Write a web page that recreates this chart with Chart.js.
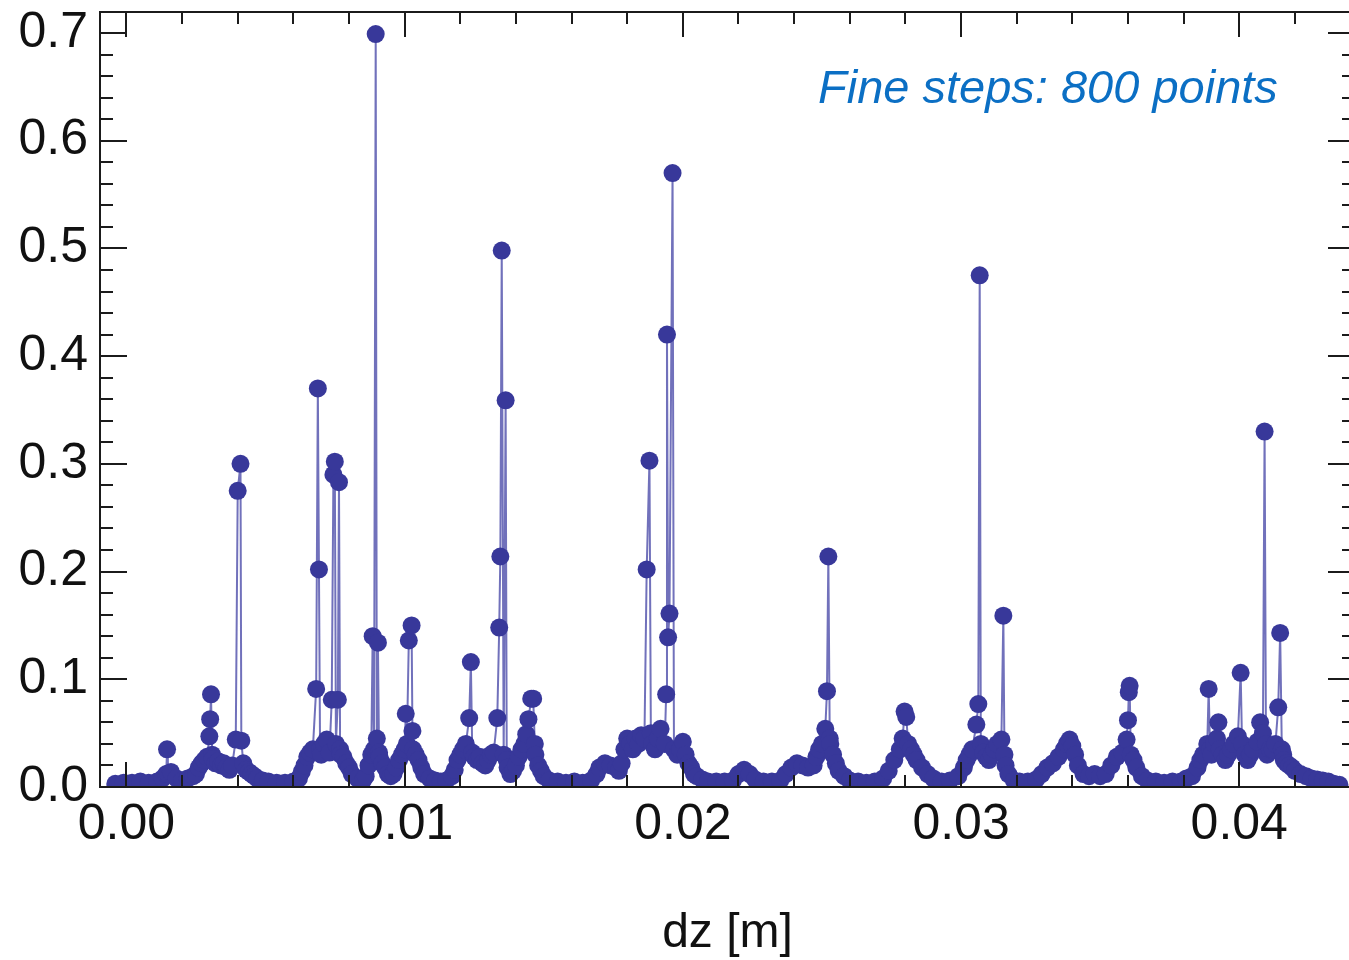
<!DOCTYPE html>
<html>
<head>
<meta charset="utf-8">
<script src="https://cdn.jsdelivr.net/npm/chart.js@4/dist/chart.umd.min.js"></script>
<style>
  html, body { margin: 0; padding: 0; background: #fff; overflow: hidden; }
  #wrap { width: 1349px; height: 960px; overflow: hidden; }
</style>
</head>
<body>
<!-- canvas is a few px wider than the window: the right frame of the plot sits just off the edge -->
<div id="wrap"><canvas id="myChart" width="1355" height="960"></canvas></div>
<script>
// x positions [m]
const dz = [
  -0.0004, -0.0001, 0.0002, 0.0005, 0.0008, 0.0011, 0.0013, 0.00143, 0.00146, 0.00149, 0.0016, 0.0018, 0.0020, 0.0022, 0.0024,
  0.0025, 0.0026, 0.0027, 0.0028, 0.0029, 0.00298, 0.00301, 0.00304, 0.00308, 0.0031, 0.0032, 0.0033, 0.0034, 0.0035, 0.0036, 0.0037, 0.0038, 0.00393, 0.00400, 0.00410, 0.00413, 0.0042, 0.0043, 0.0044, 0.0045, 0.0046, 0.0047, 0.0049,
  0.0051, 0.0054, 0.0057, 0.0060,
  0.0062, 0.0063, 0.0064, 0.0065, 0.0066, 0.0067, 0.00682, 0.00688, 0.00692, 0.00696, 0.0070, 0.0071, 0.0072, 0.0073, 0.00738, 0.00744, 0.00749, 0.00753, 0.00760, 0.00764, 0.00768, 0.0077, 0.0078, 0.0079, 0.0080, 0.0081, 0.0083, 0.0085,
  0.0086, 0.0087, 0.0088, 0.00885, 0.00890, 0.00896, 0.00900, 0.00904, 0.00908, 0.0091, 0.0092, 0.0093, 0.0094, 0.0095, 0.0096, 0.0097, 0.0098, 0.0099, 0.0100, 0.01004, 0.01008, 0.01015, 0.01025, 0.01028, 0.0103, 0.0104, 0.0105, 0.0106, 0.0107, 0.0109, 0.0111,
  0.0113, 0.0115, 0.0117, 0.0118, 0.0119, 0.0120, 0.0121, 0.0122, 0.01232, 0.01238, 0.01243, 0.0125, 0.0126, 0.0127, 0.0128, 0.0129, 0.0130, 0.0131, 0.0132, 0.01333, 0.01340, 0.01344, 0.01349, 0.01356, 0.01363, 0.01367, 0.0137, 0.0138, 0.0139, 0.0140, 0.0141, 0.0142, 0.0143, 0.01437, 0.01445, 0.01455, 0.01462, 0.01468, 0.0147, 0.0148, 0.0149, 0.0150, 0.0152,
  0.0155, 0.0158, 0.0161, 0.0164, 0.0167,
  0.0169, 0.0170, 0.0172, 0.0174, 0.0176, 0.0177, 0.0178, 0.0179, 0.0180, 0.0181, 0.0182, 0.0183, 0.0184, 0.0185, 0.01862, 0.01870, 0.01880, 0.01885, 0.0189, 0.0190, 0.0191, 0.0192, 0.01935, 0.01940, 0.01943, 0.01947, 0.01952, 0.01963, 0.01968, 0.0198, 0.0199, 0.0200, 0.0201, 0.0202, 0.0203, 0.0204, 0.0205, 0.0207,
  0.0209, 0.0212, 0.0215, 0.0218, 0.0220, 0.0222, 0.0224, 0.0226, 0.0229, 0.0232, 0.0235,
  0.0237, 0.0239, 0.0241, 0.0243, 0.0245, 0.0247, 0.0248, 0.0249, 0.0250, 0.02512, 0.02518, 0.02523, 0.02528, 0.0253, 0.0254, 0.0255, 0.0256, 0.0258, 0.0260,
  0.0263, 0.0266, 0.0269, 0.0272, 0.0274, 0.0276, 0.0278, 0.0279, 0.02797, 0.02803, 0.0281, 0.0282, 0.0283, 0.0284, 0.0286, 0.0288, 0.0290, 0.0293,
  0.0296, 0.0299, 0.0301, 0.0302, 0.0303, 0.0304, 0.03055, 0.03062, 0.03067, 0.03071, 0.0308, 0.0309, 0.0310, 0.0311, 0.0312, 0.0313, 0.03145, 0.03152, 0.03156, 0.0316, 0.0317, 0.0319,
  0.0321, 0.0324, 0.0327, 0.0329, 0.0331, 0.0333, 0.0335, 0.0337, 0.0338, 0.0339, 0.0340, 0.0341, 0.0342, 0.0344, 0.0346, 0.0348, 0.0350, 0.0352, 0.0354, 0.0356, 0.0358, 0.03595, 0.03600, 0.03603, 0.03606, 0.0361, 0.0362, 0.0363, 0.0365, 0.0367,
  0.0370, 0.0373, 0.0376, 0.0379, 0.0381,
  0.0383, 0.0385, 0.0386, 0.0387, 0.03885, 0.03890, 0.03895, 0.0390, 0.0391, 0.0392, 0.03925, 0.0393, 0.0394, 0.0395, 0.0396, 0.0397, 0.0398, 0.03995, 0.04005, 0.0401, 0.0402, 0.0403, 0.0404, 0.0405, 0.04065, 0.04075, 0.04085, 0.04091, 0.04096, 0.0410, 0.0411, 0.0412, 0.0413, 0.04140, 0.04147, 0.04153, 0.04158, 0.0416, 0.0417, 0.0418, 0.0419, 0.0420, 0.0422, 0.0424, 0.0426, 0.0428, 0.0430, 0.0432, 0.0434, 0.0436
];
// values at each dz (same order)
const signal = [
  0.003, 0.004, 0.004, 0.005, 0.004, 0.005, 0.008, 0.012, 0.035, 0.012, 0.014, 0.008, 0.006, 0.008, 0.010,
  0.012, 0.018, 0.022, 0.025, 0.028, 0.047, 0.063, 0.086, 0.030, 0.026, 0.022, 0.024, 0.020, 0.022, 0.018, 0.016, 0.020, 0.044, 0.275, 0.300, 0.043, 0.022, 0.016, 0.014, 0.012, 0.010, 0.008, 0.006,
  0.005, 0.004, 0.004, 0.005,
  0.008, 0.014, 0.020, 0.028, 0.032, 0.035, 0.091, 0.370, 0.202, 0.035, 0.030, 0.040, 0.044, 0.032, 0.081, 0.290, 0.302, 0.040, 0.081, 0.283, 0.035, 0.030, 0.028, 0.022, 0.018, 0.012, 0.008, 0.006,
  0.010, 0.020, 0.030, 0.140, 0.035, 0.699, 0.045, 0.134, 0.032, 0.028, 0.022, 0.018, 0.012, 0.010, 0.012, 0.018, 0.025, 0.030, 0.035, 0.068, 0.040, 0.136, 0.150, 0.052, 0.035, 0.030, 0.025, 0.018, 0.012, 0.008, 0.006,
  0.005, 0.006, 0.010, 0.016, 0.025, 0.030, 0.035, 0.040, 0.064, 0.116, 0.032, 0.028, 0.025, 0.028, 0.022, 0.020, 0.025, 0.030, 0.032, 0.064, 0.148, 0.214, 0.498, 0.030, 0.359, 0.025, 0.018, 0.012, 0.015, 0.020, 0.028, 0.035, 0.040, 0.049, 0.063, 0.082, 0.082, 0.040, 0.030, 0.020, 0.015, 0.010, 0.006,
  0.005, 0.004, 0.005, 0.004, 0.006,
  0.012, 0.018, 0.022, 0.020, 0.018, 0.015, 0.022, 0.035, 0.045, 0.040, 0.035, 0.045, 0.040, 0.048, 0.045, 0.202, 0.303, 0.050, 0.040, 0.035, 0.045, 0.054, 0.040, 0.086, 0.420, 0.139, 0.161, 0.570, 0.035, 0.030, 0.035, 0.042, 0.030, 0.022, 0.018, 0.012, 0.010, 0.007,
  0.005, 0.005, 0.005, 0.006, 0.012, 0.016, 0.012, 0.007, 0.005, 0.005, 0.006,
  0.012, 0.018, 0.022, 0.020, 0.018, 0.020, 0.028, 0.035, 0.040, 0.054, 0.089, 0.214, 0.045, 0.040, 0.030, 0.022, 0.015, 0.010, 0.006,
  0.005, 0.004, 0.005, 0.008, 0.015, 0.025, 0.035, 0.045, 0.070, 0.065, 0.040, 0.035, 0.030, 0.025, 0.018, 0.012, 0.008, 0.005,
  0.006, 0.010, 0.018, 0.025, 0.030, 0.035, 0.058, 0.077, 0.475, 0.040, 0.032, 0.028, 0.025, 0.030, 0.035, 0.040, 0.044, 0.159, 0.030, 0.020, 0.012, 0.006,
  0.005, 0.005, 0.007, 0.012, 0.018, 0.022, 0.028, 0.035, 0.040, 0.044, 0.038, 0.030, 0.020, 0.012, 0.010, 0.012, 0.010, 0.012, 0.020, 0.028, 0.032, 0.044, 0.062, 0.088, 0.094, 0.030, 0.025, 0.018, 0.010, 0.006,
  0.005, 0.004, 0.005, 0.005, 0.008,
  0.010, 0.018, 0.025, 0.030, 0.040, 0.091, 0.035, 0.030, 0.040, 0.045, 0.060, 0.035, 0.030, 0.025, 0.030, 0.035, 0.040, 0.047, 0.106, 0.040, 0.030, 0.025, 0.030, 0.035, 0.042, 0.060, 0.050, 0.330, 0.040, 0.030, 0.035, 0.035, 0.040, 0.074, 0.143, 0.035, 0.030, 0.025, 0.022, 0.020, 0.018, 0.015, 0.012, 0.010, 0.008, 0.007, 0.006, 0.005, 0.003, 0.002
];
// axis ticks
const xTicks = [0, 0.01, 0.02, 0.03, 0.04];
const yTicks = [0, 0.1, 0.2, 0.3, 0.4, 0.5, 0.6, 0.7];
const xMinorStep = 0.002;
const yMinorStep = 0.02;
const note = 'Fine steps: 800 points';

const fontFamily = '"Liberation Sans", Arial, Helvetica, sans-serif';

// frame with inward ticks on all four sides + the note
const framePlugin = {
  id: 'frame',
  afterDatasetsDraw(chart) {
    const {ctx, chartArea: a, scales: {x, y}} = chart;
    ctx.save();
    ctx.strokeStyle = '#1b1b1b';
    ctx.lineWidth = 2;
    ctx.strokeRect(a.left, a.top, a.right - a.left, a.bottom - a.top);
    ctx.beginPath();
    const isMajor = (v, list) => list.some(t => Math.abs(t - v) < 1e-9);
    for (let i = Math.ceil(x.min / xMinorStep); i * xMinorStep <= x.max; i++) {
      const v = i * xMinorStep;
      const px = Math.round(x.getPixelForValue(v));
      const len = isMajor(v, xTicks) ? 25 : 12;
      ctx.moveTo(px, a.bottom); ctx.lineTo(px, a.bottom - len);
      ctx.moveTo(px, a.top); ctx.lineTo(px, a.top + len);
    }
    for (let i = Math.ceil(y.min / yMinorStep); i * yMinorStep <= y.max; i++) {
      const v = i * yMinorStep;
      const py = Math.round(y.getPixelForValue(v));
      const len = isMajor(v, yTicks) ? 27 : 13;
      ctx.moveTo(a.left, py); ctx.lineTo(a.left + len, py);
      ctx.moveTo(a.right, py); ctx.lineTo(a.right - len, py);
    }
    ctx.stroke();
    ctx.restore();
  },
  afterDraw(chart) {
    const {ctx, chartArea: a} = chart;
    ctx.save();
    ctx.font = 'italic 47px ' + fontFamily;
    ctx.fillStyle = '#0b6fc4';
    ctx.textAlign = 'left';
    ctx.textBaseline = 'alphabetic';
    ctx.fillText(note, a.left + 718, a.top + 91);
    ctx.restore();
  }
};

const noPad = s => { s.paddingTop = 0; s.paddingBottom = 0; s.paddingLeft = 0; s.paddingRight = 0; };

const ctx = document.getElementById('myChart');
const myChart = new Chart(ctx, {
  type: 'scatter',
  data: {
    datasets: [{
      data: dz.map((v, i) => ({x: v, y: signal[i]})),
      showLine: true,
      borderColor: 'rgba(78, 78, 170, 0.8)',
      borderWidth: 2,
      tension: 0,
      pointRadius: 9,
      pointHoverRadius: 9,
      pointBackgroundColor: '#38389a',
      pointBorderWidth: 0
    }]
  },
  options: {
    responsive: false,
    animation: false,
    devicePixelRatio: 1,
    layout: {autoPadding: false, padding: {top: 12, right: 0, bottom: 0, left: 0}},
    plugins: {legend: {display: false}, tooltip: {enabled: false}},
    scales: {
      x: {
        type: 'linear',
        min: -0.00095,
        max: 0.04416,
        grid: {display: false, drawTicks: false},
        border: {display: false},
        afterBuildTicks: s => { s.ticks = xTicks.map(v => ({value: v})); },
        afterFit: s => { s.height = 173; noPad(s); },
        ticks: {
          autoSkip: false,
          maxRotation: 0,
          padding: 8,
          color: '#111',
          font: {family: fontFamily, size: 50},
          callback: v => v.toFixed(2)
        },
        title: {
          display: true,
          text: 'dz [m]',
          color: '#111',
          font: {family: fontFamily, size: 48, lineHeight: 1.1},
          padding: {top: 0, bottom: 0}
        }
      },
      y: {
        min: 0,
        max: 0.7195,
        grid: {display: false, drawTicks: false},
        border: {display: false},
        afterBuildTicks: s => { s.ticks = yTicks.map(v => ({value: v})); },
        afterFit: s => { s.width = 100; noPad(s); },
        ticks: {
          padding: 12,
          color: '#111',
          font: {family: fontFamily, size: 50},
          callback: v => v.toFixed(1)
        }
      }
    }
  },
  plugins: [framePlugin]
});
</script>
</body>
</html>
